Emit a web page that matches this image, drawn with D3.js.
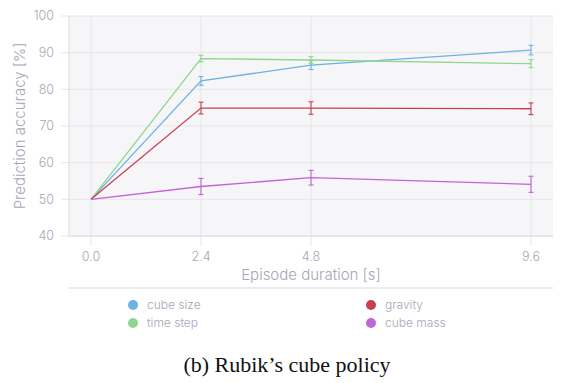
<!DOCTYPE html>
<html>
<head>
<meta charset="utf-8">
<script src="https://cdn.jsdelivr.net/npm/d3@7"></script>
<style>
  body { margin: 0; background: #fff; }
  text { font-family: Inter, "Noto Sans", sans-serif; font-weight: 300; }
</style>
</head>
<body>
<svg width="574" height="383"></svg>
<script>
const durations = [0.0, 2.4, 4.8, 9.6];
const xTicks = [0.0, 2.4, 4.8, 9.6];
const yTicks = [40, 50, 60, 70, 80, 90, 100];

const names = ['cube size', 'time step', 'gravity', 'cube mass'];
const colors = ['#6cb2e2', '#8fd68e', '#c8404f', '#c064d8'];

const cubeSize = [50, 82.3, 86.6, 90.7];
const timeStep = [50, 88.4, 88.0, 87.0];
const gravity = [50, 74.9, 74.9, 74.7];
const cubeMass = [50, 53.5, 55.9, 54.1];

const cubeSizeErr = [0, 1.2, 1.2, 1.3];
const timeStepErr = [0, 0.9, 0.9, 1.1];
const gravityErr = [0, 1.6, 1.7, 1.6];
const cubeMassErr = [0, 2.2, 2.0, 2.2];

const series = [
  { name: names[0], color: colors[0], values: cubeSize, err: cubeSizeErr },
  { name: names[1], color: colors[1], values: timeStep, err: timeStepErr },
  { name: names[2], color: colors[2], values: gravity, err: gravityErr },
  { name: names[3], color: colors[3], values: cubeMass, err: cubeMassErr },
];

const svg = d3.select('svg');
const panel = { left: 69, right: 553, top: 16, bottom: 236 };

const xScale = d3.scaleLinear().domain([0, 9.6]).range([91, 531]);
const yScale = d3.scaleLinear().domain([40, 100]).range([236, 16]);

const gridColor = '#e6e6ea';
const textColor = '#a6a6b8';

// panel background
svg.append('rect')
  .attr('x', panel.left).attr('y', panel.top)
  .attr('width', panel.right - panel.left)
  .attr('height', panel.bottom - panel.top)
  .attr('fill', '#f6f6f8');

// horizontal grid
svg.append('g').selectAll('line').data(yTicks).join('line')
  .attr('x1', panel.left - 8).attr('x2', panel.right)
  .attr('y1', d => yScale(d)).attr('y2', d => yScale(d))
  .attr('stroke', gridColor).attr('stroke-width', 1);

// vertical grid
svg.append('g').selectAll('line').data(xTicks).join('line')
  .attr('x1', d => xScale(d)).attr('x2', d => xScale(d))
  .attr('y1', panel.top).attr('y2', panel.bottom + 10)
  .attr('stroke', gridColor).attr('stroke-width', 1);

// axis lines
svg.append('line')
  .attr('x1', panel.left).attr('x2', panel.left)
  .attr('y1', panel.top).attr('y2', panel.bottom)
  .attr('stroke', '#dcdce2');
svg.append('line')
  .attr('x1', panel.left).attr('x2', panel.right)
  .attr('y1', panel.bottom).attr('y2', panel.bottom)
  .attr('stroke', '#dcdce2');

// tick labels
svg.append('g').selectAll('text').data(yTicks).join('text')
  .attr('x', 54).attr('y', d => yScale(d))
  .attr('dy', '0.35em')
  .attr('text-anchor', 'end')
  .attr('font-size', 12.5)
  .attr('fill', textColor)
  .text(d => d);

svg.append('g').selectAll('text').data(xTicks).join('text')
  .attr('x', d => xScale(d)).attr('y', 257)
  .attr('dy', '0.35em')
  .attr('text-anchor', 'middle')
  .attr('font-size', 12.5)
  .attr('fill', textColor)
  .text(d => d3.format('.1f')(d));

// axis titles
svg.append('text')
  .attr('x', 311).attr('y', 275)
  .attr('dy', '0.35em')
  .attr('text-anchor', 'middle')
  .attr('font-size', 15)
  .attr('fill', textColor)
  .text('Episode duration [s]');

svg.append('text')
  .attr('transform', 'translate(20,126) rotate(-90)')
  .attr('dy', '0.35em')
  .attr('text-anchor', 'middle')
  .attr('font-size', 15)
  .attr('fill', textColor)
  .text('Prediction accuracy [%]');

// lines
const line = d3.line()
  .x((d, i) => xScale(durations[i]))
  .y(d => yScale(d));

const plot = svg.append('g');
series.forEach(s => {
  plot.append('path')
    .attr('d', line(s.values))
    .attr('fill', 'none')
    .attr('stroke', s.color)
    .attr('stroke-width', 1.3);

  const bars = durations.map((t, i) => ({ t, v: s.values[i], e: s.err[i] }))
    .filter(d => d.e > 0);
  const g = plot.append('g').attr('stroke', s.color).attr('stroke-width', 1.1);
  g.selectAll('.v').data(bars).join('line')
    .attr('x1', d => xScale(d.t)).attr('x2', d => xScale(d.t))
    .attr('y1', d => yScale(d.v - d.e)).attr('y2', d => yScale(d.v + d.e));
  g.selectAll('.top').data(bars).join('line')
    .attr('x1', d => xScale(d.t) - 2.5).attr('x2', d => xScale(d.t) + 2.5)
    .attr('y1', d => yScale(d.v + d.e)).attr('y2', d => yScale(d.v + d.e));
  g.selectAll('.bot').data(bars).join('line')
    .attr('x1', d => xScale(d.t) - 2.5).attr('x2', d => xScale(d.t) + 2.5)
    .attr('y1', d => yScale(d.v - d.e)).attr('y2', d => yScale(d.v - d.e));
});

// legend
svg.append('line')
  .attr('x1', 68).attr('x2', 553)
  .attr('y1', 288).attr('y2', 288)
  .attr('stroke', '#d8d8e4').attr('stroke-width', 1.2);

const legendPos = [
  { x: 133, y: 305 },
  { x: 133, y: 323 },
  { x: 371, y: 305 },
  { x: 371, y: 323 },
];
const legend = svg.append('g').selectAll('g').data(series).join('g')
  .attr('transform', (d, i) => `translate(${legendPos[i].x},${legendPos[i].y})`);
legend.append('circle').attr('r', 5).attr('fill', d => d.color);
legend.append('text')
  .attr('x', 14).attr('dy', '0.35em')
  .attr('font-size', 12)
  .attr('fill', textColor)
  .text(d => d.name);

// caption
svg.append('text')
  .attr('x', 287).attr('y', 372)
  .attr('text-anchor', 'middle')
  .attr('font-size', 22)
  .attr('fill', '#111')
  .style('font-family', '"Liberation Serif", "Times New Roman", serif')
  .style('font-weight', 400)
  .text('(b) Rubik’s cube policy');
</script>
</body>
</html>
